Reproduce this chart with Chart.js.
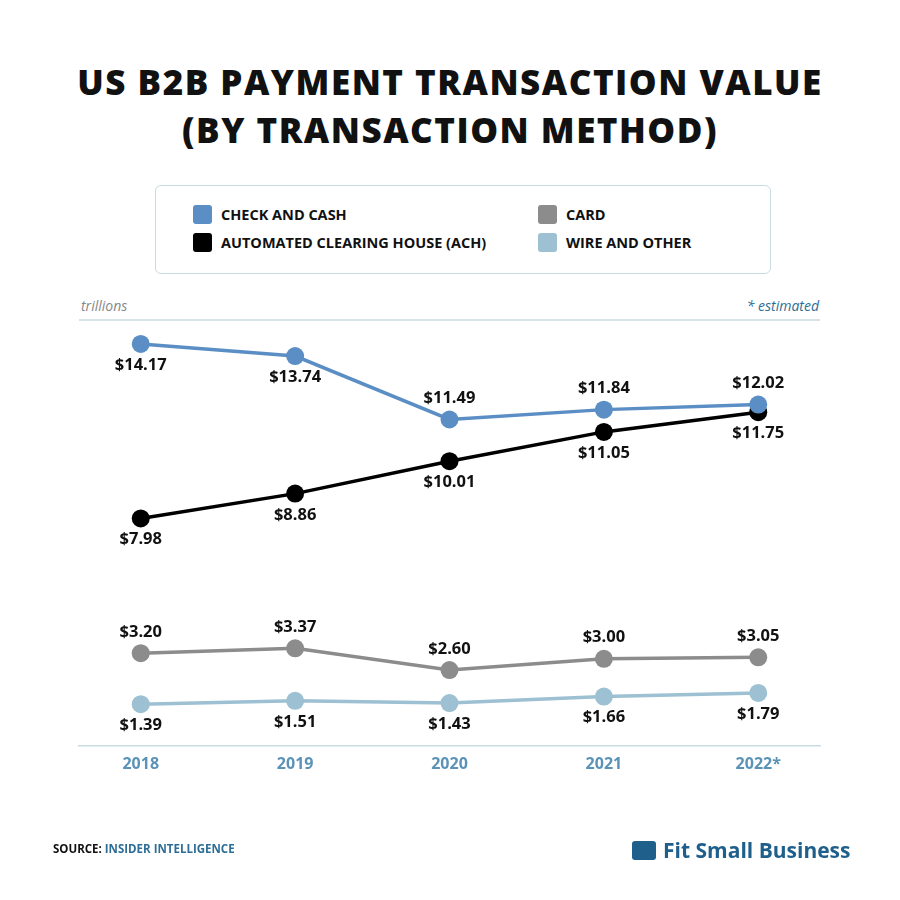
<!DOCTYPE html>
<html><head><meta charset="utf-8">
<script src="https://cdn.jsdelivr.net/npm/chart.js@4"></script>
<style>
body{margin:0;width:900px;height:900px;background:#fff;font-family:"Open Sans",sans-serif;position:relative;overflow:hidden}
#t{position:absolute;top:58px;left:0;width:900px;text-align:center;font-weight:800;font-size:35px;line-height:48px;letter-spacing:1.5px;color:#111}
#lg{position:absolute;left:155px;top:185px;width:616px;height:89px;border:1.5px solid #c9dbe2;border-radius:6px;box-sizing:border-box}
.li{position:absolute;font-weight:700;font-size:14.5px;color:#111;display:flex;align-items:center}
.sw{width:19px;height:19px;border-radius:3px;margin-right:9px}
.sm{position:absolute;font-style:italic;font-size:14px}
#c{position:absolute;left:0;top:0}
</style></head><body>
<div id="t">US B2B PAYMENT TRANSACTION VALUE<br>(BY TRANSACTION METHOD)</div>
<div id="lg">
<div class="li" style="left:37px;top:19px"><div class="sw" style="background:#5b8ec4"></div>CHECK AND CASH</div>
<div class="li" style="left:37px;top:47px"><div class="sw" style="background:#000"></div>AUTOMATED CLEARING HOUSE (ACH)</div>
<div class="li" style="left:382px;top:19px"><div class="sw" style="background:#8c8c8c"></div>CARD</div>
<div class="li" style="left:382px;top:47px"><div class="sw" style="background:#9dc0d2"></div>WIRE AND OTHER</div>
</div>
<div class="sm" style="left:81px;top:296px;color:#888">trillions</div>
<div class="sm" style="right:81px;top:296px;color:#2e6e96">* estimated</div>
<canvas id="c" width="900" height="900"></canvas>
<div style="position:absolute;left:53px;top:841px;font-size:11.5px;font-weight:700;color:#111">SOURCE: <span style="color:#2e6e96">INSIDER INTELLIGENCE</span></div>
<div style="position:absolute;left:632px;top:836px;font-size:21px;font-weight:700;color:#1f5f8b;display:flex;align-items:center"><div style="width:24px;height:19px;background:#1f5f8b;border-radius:3px;margin-right:7px"></div>Fit Small Business</div>
<script>
const years=["2018","2019","2020","2021","2022*"];
const checkCash=[14.17,13.74,11.49,11.84,12.02];
const ach=[7.98,8.86,10.01,11.05,11.75];
const card=[3.20,3.37,2.60,3.00,3.05];
const wire=[1.39,1.51,1.43,1.66,1.79];
const checkPos=["below","below","above","above","above"];
const series=[
 {name:"CHECK AND CASH",d:checkCash,c:"#5b8ec4",pos:checkPos},
 {name:"ACH",d:ach,c:"#000",pos:["below","below","below","below","below"]},
 {name:"CARD",d:card,c:"#8c8c8c",pos:["above","above","above","above","above"]},
 {name:"WIRE",d:wire,c:"#9dc0d2",pos:["below","below","below","below","below"]}];
const labelPlugin={id:"lbl",afterDatasetsDraw(ch){
 const ctx=ch.ctx;ctx.save();ctx.font="bold 16.5px 'Open Sans'";ctx.fillStyle="#111";ctx.textAlign="center";
 ch.data.datasets.forEach((ds,i)=>{ch.getDatasetMeta(i).data.forEach((p,j)=>{
  const s=series[i];const up=s.pos[j]==="above";
  ctx.textBaseline=up?"bottom":"top";
  ctx.fillText("$"+s.d[j].toFixed(2),p.x,up?p.y-13:p.y+13);});});
 const a=ch.chartArea;ctx.strokeStyle="#c9dbe2";ctx.lineWidth=1.5;ctx.beginPath();ctx.moveTo(a.left,a.top);ctx.lineTo(a.right,a.top);ctx.stroke();
 ctx.restore();}};
new Chart(document.getElementById("c"),{type:"line",
 data:{datasets:series.map(s=>({label:s.name,data:s.d.map((v,i)=>({x:i,y:v})),borderColor:s.c,backgroundColor:s.c,borderWidth:3.5,pointRadius:9,pointHoverRadius:9,pointBorderWidth:0}))},
 options:{responsive:false,animation:false,events:[],
  layout:{padding:{left:79,right:80,top:320,bottom:123.5}},
  plugins:{legend:{display:false},tooltip:{enabled:false}},
  scales:{x:{type:"linear",min:-0.4,max:4.4,afterBuildTicks(ax){ax.ticks=[0,1,2,3,4].map(v=>({value:v}));},
    grid:{display:false,drawTicks:true,tickLength:8},border:{color:"#c9dbe2",width:1.5},
    ticks:{callback:v=>years[v],color:"#5b93b8",font:{family:"Open Sans",weight:"bold",size:16},padding:2}},
   y:{display:false,min:-0.07,max:15.02}}},
 plugins:[labelPlugin]});
</script></body></html>
